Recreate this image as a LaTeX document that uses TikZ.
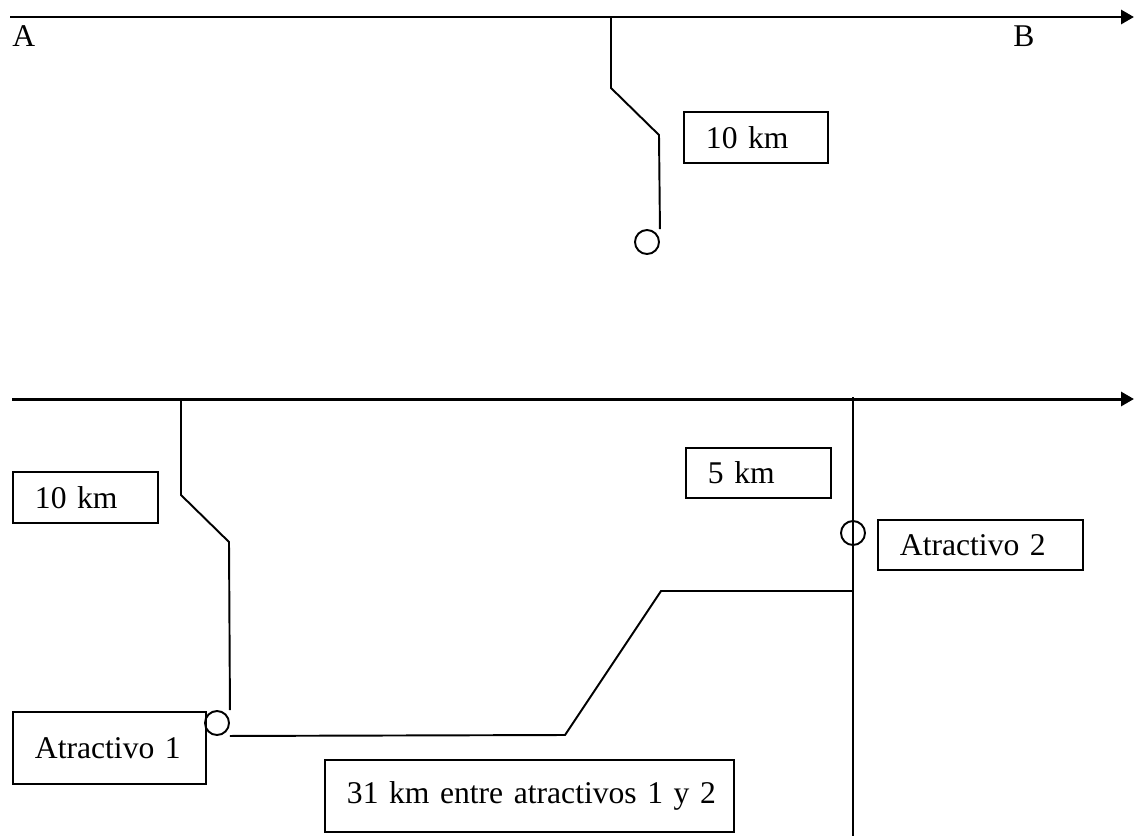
\documentclass[tikz,border=0pt]{standalone}
\usepackage{fontspec}
\setmainfont{Liberation Serif}
\usetikzlibrary{positioning,arrows.meta}

\tikzset{
  road/.style={line width=1.7pt},
  branch/.style={line width=1.1pt},
  stop/.style={circle,draw,line width=1.1pt,minimum size=0.48cm,inner sep=0pt},
  labelbox/.style={draw,line width=1.1pt,anchor=north west,align=left,
    inner xsep=0.44cm,inner ysep=0pt,font=\fontsize{18}{21}\selectfont},
  letter/.style={anchor=base west,inner sep=0pt,font=\fontsize{18}{21}\selectfont}
}

\begin{document}
\begin{tikzpicture}[x=0.02cm,y=-0.02cm]
        \useasboundingbox (0,0) rectangle (1134,836);
        % Upper road
        \coordinate (a0) at (10,17);
        \coordinate (a1) at (1134,17);
        \coordinate (j1) at (611,17);
        \draw[road,-{Triangle[length=0.26cm,width=0.28cm]}] (a0) -- (a1);
        \node[letter] (A) at (12,46) {A};
        \node[letter] (B) at (1013,46) {B};
        \node[stop] (c1) at (647,242) {};
        \draw[branch] (j1) -- ++(0,71) -- ++(48,47) -- (c1.east |- c1.north);
        \node[labelbox,text width=2.0cm,minimum height=1.02cm] (d1) at (683,111) {10 km};

        % Lower road
        \coordinate (b0) at (12,399);
        \coordinate (b1) at (1134,399);
        \coordinate (j2) at (181,399);
        \coordinate (j3) at (853,397);
        \coordinate (j4) at (853,591);
        \coordinate (e) at (853,836);
        \draw[road,-{Triangle[length=0.26cm,width=0.28cm]}] (b0) -- (b1);
        \draw[branch] (j3) -- (e);
        \node[stop] (c2) at (217,723) {};
        \node[stop] (c3) at (853,533) {};
        \draw[branch] (j2) -- ++(0,96) -- ++(48,47) -- (c2.east |- c2.north);
        \draw[branch] (c2.east |- c2.south) -- (565,735) -- (661,591) -- (j4);

        % Labels
        \node[labelbox,text width=2.02cm,minimum height=1.02cm] (d2) at (12,471) {10 km};
        \node[labelbox,text width=2.02cm,minimum height=1.0cm] (d3) at (685,447) {5 km};
        \node[labelbox,text width=3.22cm,minimum height=1.0cm] (t2) at (877,519) {Atractivo 2};
        \node[labelbox,text width=2.98cm,minimum height=1.44cm] (t1) at (12,711) {Atractivo 1};
        \node[labelbox,text width=7.3cm,minimum height=1.44cm] (t12) at (324,759) {\mbox{31 km entre atractivos 1 y 2}};
\end{tikzpicture}
\end{document}
